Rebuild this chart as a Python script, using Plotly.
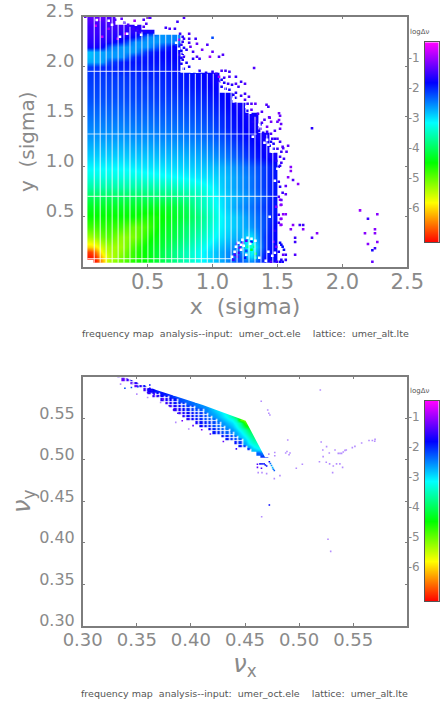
import plotly.graph_objects as go

_ = None
W, H = 442, 704
GREY = "#8a8a8a"
FONT = "DejaVu Sans"

COLORSCALE = [[0.0, "#ff0000"], [0.2, "#ffff00"], [0.4, "#00ff00"], [0.6, "#00ffff"], [0.8, "#0000ff"], [1.0, "#ff00ff"]]
LOG_MIN, LOG_MAX = -7.13, -0.48

# --- top panel: log(delta nu) over the x,y amplitude plane ---
AMP_X = [0.0575, 0.1, 0.15, 0.2, 0.3, 0.4, 0.5, 0.6, 0.7, 0.8, 0.9, 1.0, 1.1, 1.2, 1.3, 1.4, 1.465]
AMP_Y = [0.06, 0.1, 0.15, 0.2, 0.3, 0.4, 0.5, 0.6, 0.7, 0.8, 0.9, 1.0, 1.1, 1.2, 1.3, 1.4, 1.5, 1.6, 1.7, 1.8, 1.9,
         2.0, 2.05, 2.1, 2.15, 2.2, 2.25, 2.3, 2.35, 2.4, 2.45, 2.5]
AMP_LOG = [
 [_, -7.0, -6.2, -5.4, -5.0, -4.6, -4.4, -4.1, -3.8, -3.5, -3.2, -2.9, -2.6, -2.2, -2.6, -1.9, -1.8],
 [-7.0, -6.9, -6.0, -5.5, -5.1, -4.7, -4.4, -4.1, -3.8, -3.5, -3.2, -2.9, -2.6, -2.2, -3.0, -1.9, -1.8],
 [-6.8, -6.5, -5.7, -5.4, -5.2, -4.7, -4.4, -4.1, -3.8, -3.5, -3.2, -2.9, -2.6, -2.3, -3.2, -2.0, -1.8],
 [-6.0, -5.9, -5.5, -5.3, -5.3, -4.8, -4.4, -4.2, -3.9, -3.6, -3.3, -3.0, -2.7, -2.5, -3.4, -2.1, -1.8],
 [-5.3, -5.2, -5.0, -4.9, -5.2, -5.1, -4.6, -4.3, -4.1, -3.8, -3.5, -3.2, -2.9, -2.7, -3.0, -2.1, -1.8],
 [-4.8, -4.8, -4.7, -4.7, -4.8, -5.0, -4.8, -4.4, -4.2, -3.9, -3.7, -3.3, -3.0, -2.8, -2.6, -2.2, -1.8],
 [-4.5, -4.5, -4.5, -4.5, -4.5, -4.5, -4.6, -4.5, -4.3, -4.1, -3.8, -3.4, -3.0, -2.8, -2.5, -2.2, -1.9],
 [-4.3, -4.3, -4.3, -4.3, -4.3, -4.3, -4.3, -4.3, -4.2, -4.0, -3.6, -3.3, -2.9, -2.6, -2.4, -2.1, -1.9],
 [-4.0, -4.0, -4.0, -4.0, -4.0, -4.0, -3.95, -3.9, -3.85, -3.7, -3.5, -3.2, -2.9, -2.7, -2.5, -2.2, -1.9],
 [-3.6, -3.6, -3.6, -3.6, -3.6, -3.6, -3.6, -3.55, -3.5, -3.4, -3.3, -3.1, -2.8, -2.6, -2.4, -2.1, -1.9],
 [-3.3, -3.3, -3.3, -3.3, -3.3, -3.3, -3.25, -3.2, -3.15, -3.1, -3.0, -2.95, -2.8, -2.6, -2.4, -2.1, -1.9],
 [-3.1, -3.1, -3.1, -3.1, -3.1, -3.05, -3.0, -3.0, -2.95, -2.9, -2.85, -2.8, -2.7, -2.5, -2.3, -2.1, -1.9],
 [-2.9, -2.9, -2.9, -2.9, -2.9, -2.85, -2.85, -2.8, -2.8, -2.75, -2.7, -2.6, -2.45, -2.25, -2.0, -1.8, -1.7],
 [-2.75, -2.75, -2.75, -2.75, -2.75, -2.7, -2.7, -2.65, -2.65, -2.6, -2.55, -2.45, -2.3, -2.1, -1.9, -1.75, _],
 [-2.6, -2.6, -2.6, -2.6, -2.6, -2.55, -2.55, -2.5, -2.5, -2.45, -2.4, -2.3, -2.15, -1.95, -1.8, -1.7, _],
 [-2.5, -2.5, -2.5, -2.5, -2.5, -2.45, -2.45, -2.4, -2.4, -2.35, -2.3, -2.2, -2.0, -1.85, -1.75, _, _],
 [-2.4, -2.4, -2.4, -2.4, -2.4, -2.35, -2.35, -2.3, -2.3, -2.25, -2.2, -2.1, -1.95, -1.8, -1.75, _, _],
 [-2.3, -2.3, -2.3, -2.3, -2.3, -2.25, -2.25, -2.2, -2.2, -2.15, -2.1, -2.0, -1.85, -1.75, _, _, _],
 [-2.2, -2.2, -2.2, -2.2, -2.2, -2.15, -2.15, -2.1, -2.1, -2.05, -2.0, -1.9, -1.8, _, _, _, _],
 [-2.15, -2.15, -2.15, -2.15, -2.15, -2.1, -2.1, -2.05, -2.0, -1.95, -1.9, -1.8, _, _, _, _, _],
 [-2.1, -2.1, -2.1, -2.1, -2.1, -2.05, -2.0, -2.0, -1.95, -1.9, -1.85, -1.75, _, _, _, _, _],
 [-2.1, -2.05, -2.0, -2.0, -1.95, -1.95, -1.95, -1.95, -1.9, _, _, _, _, _, _, _, _],
 [-2.7, -2.7, -2.65, -2.2, -1.95, -1.9, -1.9, -1.9, -1.85, _, _, _, _, _, _, _, _],
 [-2.8, -2.7, -2.65, -2.6, -2.6, -2.0, -1.9, -1.85, -1.8, _, _, _, _, _, _, _, _],
 [-2.8, -2.7, -2.65, -2.6, -2.6, -2.6, -2.0, -1.85, -1.8, _, _, _, _, _, _, _, _],
 [-1.7, -1.7, -1.75, -2.3, -2.6, -2.6, -2.6, -2.2, -1.8, _, _, _, _, _, _, _, _],
 [-1.6, -1.6, -1.65, -1.7, -1.9, -2.55, -2.6, -2.6, -2.5, _, _, _, _, _, _, _, _],
 [-1.55, -1.55, -1.6, -1.6, -1.7, -1.8, -2.5, -2.6, -2.5, _, _, _, _, _, _, _, _],
 [-1.5, -1.5, -1.5, -1.55, -1.6, -1.6, -1.7, _, _, _, _, _, _, _, _, _, _],
 [-1.5, -1.5, -1.5, -1.5, -1.5, -1.6, _, _, _, _, _, _, _, _, _, _, _],
 [-1.4, -1.4, -1.45, -1.4, _, _, _, _, _, _, _, _, _, _, _, _, _],
 [-1.3, -1.3, -1.3, -1.4, _, _, _, _, _, _, _, _, _, _, _, _, _],
]

# white seams left between the scan blocks
SEAM_X = [0.089, 0.135, 0.181, 0.227, 0.273, 0.318, 0.364, 0.41, 0.456, 0.502, 0.548, 0.593, 0.639, 0.685, 0.731,
          0.777, 0.823, 0.868, 0.914, 0.96, 1.006, 1.052, 1.098, 1.143, 1.189, 1.235, 1.281, 1.327, 1.373, 1.418, 1.464]
SEAM_X_TOP = [2.5, 2.5, 2.5, 2.5, 2.45, 2.45, 2.4, 2.35, 2.35, 2.33, 2.33, 2.33, 2.33, 2.33, 2.33,
              2.0, 1.93, 1.93, 1.93, 1.93, 1.93, 1.85, 1.8, 1.75, 1.72, 1.65, 1.6, 1.5, 1.42, 1.32, 1.22]
SEAM_Y = [1.953, 1.327, 0.704, 0.08]
SEAM_Y_END = [0.82, 1.34, 1.5, 1.15]

# white holes inside the mapped area
HOLES = [
 (0.108, 2.467), (0.2, 2.46), (0.226, 2.42), (0.287, 2.3), (0.343, 2.33), (0.41, 2.42), (0.45, 2.32), (0.5, 2.39),
 (0.62, 2.35), (0.65, 2.35), (0.68, 2.35), (0.7, 2.35), (0.72, 2.24), (0.74, 2.18), (0.78, 2.14), (0.8, 2.09),
 (0.84, 2.03), (0.8, 1.98), (0.84, 1.95), (0.86, 1.98), (0.88, 1.95),
 (1.11, 1.87), (1.15, 1.86), (1.18, 1.78), (1.22, 1.78), (1.24, 1.77), (1.16, 1.68), (1.2, 1.66), (1.26, 1.6),
 (1.29, 1.54), (1.38, 1.5), (1.31, 1.3), (1.36, 1.42), (1.42, 1.27), (1.46, 1.15), (1.43, 1.22), (1.4, 1.24),
 (1.5, 0.98), (1.48, 0.86), (1.44, 0.5),
 (1.15, 0.1), (1.17, 0.15), (1.18, 0.2), (1.2, 0.24), (1.23, 0.27), (1.27, 0.29), (1.3, 0.28), (1.33, 0.26),
 (1.22, 0.17), (1.26, 0.12), (1.24, 0.21), (1.29, 0.23), (1.22, 0.22), (1.36, 0.09), (1.41, 0.06),
 (1.46, 0.11), (1.48, 0.14), (1.43, 0.15),
]

# scattered surviving particles around the edge of the mapped area
FRINGE_TOP = [
 (0.05, 2.48, -1.4), (0.13, 2.47, -0.9), (0.21, 2.49, -1.4), (0.25, 2.47, -1.4), (0.3, 2.48, -1.3), (0.32, 2.44, -1.5),
 (0.35, 2.42, -1.4), (0.39, 2.38, -1.5), (0.42, 2.37, -1.5), (0.4, 2.46, -1.0), (0.47, 2.47, -1.4), (0.5, 2.49, -1.2),
 (0.49, 2.43, -1.4), (0.52, 2.49, -1.4), (0.47, 2.4, -1.4), (0.44, 2.34, -1.5), (0.64, 2.39, -1.5), (0.67, 2.38, -1.4),
 (0.71, 2.38, -1.5), (0.73, 2.45, -1.5), (0.78, 2.49, -1.4), (0.82, 2.33, -1.4), (0.75, 2.33, -1.5), (0.78, 2.28, -1.5),
 (0.82, 2.28, -1.5), (0.87, 2.28, -1.5), (0.88, 2.23, -1.3), (0.96, 2.22, -1.4), (1.0, 2.29, -2.2), (0.92, 2.17, -1.2),
 (1.0, 2.15, -1.3), (1.05, 2.1, -1.4), (1.08, 2.12, -1.4), (0.98, 2.1, -1.0), (0.88, 2.1, -1.4), (0.9, 2.08, -1.5),
 (0.85, 2.15, -1.5), (0.83, 2.2, -1.3), (0.76, 2.22, -1.6), (0.78, 2.1, -1.5), (0.74, 2.12, -1.6), (0.8, 2.04, -1.7),
 (0.82, 2.0, -1.7), (0.76, 2.03, -1.7), (0.85, 2.08, -1.6), (0.74, 2.27, -1.0), (0.7, 2.2, -1.8), (0.76, 2.16, -1.8),
 (0.33, 2.33, -0.8), (0.15, 2.3, -0.8), (0.27, 2.28, -0.8), (0.1, 2.41, -0.8), (0.02, 2.5, -1.3), (0.2, 2.38, -1.0),
 (0.72, 1.96, -1.6), (0.9, 1.96, -1.6), (0.77, 2.07, -1.7), (0.77, 2.13, -1.7), (0.78, 2.19, -1.7), (0.77, 2.25, -1.6),
 (0.78, 1.98, -1.8), (0.77, 2.3, -1.6), (0.8, 2.17, -1.6), (0.82, 2.24, -1.5), (0.76, 2.09, -1.7),
]
FRINGE_ARC = [
 (0.95, 1.94, -1.7), (1.0, 1.95, -1.6), (1.03, 1.93, -1.5), (1.05, 1.9, -1.0), (1.07, 1.96, -1.4), (1.1, 1.96, -1.5), (1.13, 1.95, -1.5),
 (1.05, 1.85, -1.6), (1.09, 1.89, -1.5), (1.12, 1.83, -1.5), (1.15, 1.82, -1.6), (1.13, 1.9, -1.4), (1.18, 1.9, -1.5),
 (1.18, 1.83, -1.4), (1.2, 1.8, -1.5), (1.22, 1.85, -1.5), (1.25, 1.83, -1.4), (1.25, 1.73, -1.5), (1.18, 1.74, -1.6),
 (1.22, 1.71, -1.5), (1.25, 1.67, -1.4), (1.28, 1.7, -1.4), (1.3, 1.63, -1.4), (1.33, 1.63, -1.3), (1.27, 1.63, -1.5),
 (1.3, 1.57, -1.3), (1.35, 1.53, -1.4), (1.38, 1.55, -1.4), (1.33, 1.48, -1.5), (1.38, 1.44, -1.4), (1.4, 1.47, -1.4),
 (1.42, 1.4, -1.2), (1.37, 1.38, -1.5), (1.42, 1.35, -1.5), (1.45, 1.33, -1.4), (1.48, 1.36, -1.4), (1.46, 1.28, -1.5),
 (1.5, 1.28, -1.4), (1.52, 1.25, -1.5), (1.54, 1.2, -1.4), (1.5, 1.18, -1.5), (1.53, 1.15, -1.5), (1.57, 1.15, -1.4),
 (1.52, 1.1, -1.5), (1.55, 1.08, -1.5), (1.53, 1.04, -1.5), (1.51, 1.0, -1.6), (1.49, 1.06, -1.6), (1.52, 1.01, -1.6),
 (1.52, 1.38, -1.3), (1.5, 1.45, -1.3), (1.52, 1.51, -1.3), (1.44, 1.49, -1.2), (1.43, 1.6, -1.5), (1.48, 1.28, -1.6),
 (1.51, 0.85, -1.6), (1.52, 0.8, -1.6), (1.54, 0.74, -1.5), (1.51, 0.7, -1.4), (1.52, 0.67, -1.0), (1.53, 0.62, -1.2),
 (1.49, 0.6, -1.1), (1.51, 0.52, -1.5), (1.53, 0.48, -1.1), (1.51, 0.44, -1.5), (1.53, 0.42, -1.1), (1.48, 0.36, -1.6),
 (1.07, 1.87, -1.7), (1.09, 1.84, -1.7), (1.07, 1.8, -1.7), (1.1, 1.78, -1.7), (1.13, 1.77, -1.7), (1.16, 1.72, -1.7),
 (1.18, 1.69, -1.7), (1.18, 1.63, -1.7), (1.21, 1.62, -1.7), (1.23, 1.58, -1.7), (1.27, 1.56, -1.7), (1.27, 1.52, -1.7),
 (1.3, 1.5, -1.7), (1.31, 1.45, -1.7), (1.34, 1.45, -1.7), (1.37, 1.42, -1.7), (1.36, 1.36, -1.7), (1.39, 1.34, -1.7),
 (1.39, 1.29, -1.7), (1.42, 1.3, -1.7), (1.45, 1.25, -1.7), (1.47, 1.23, -1.7), (1.44, 1.21, -1.7), (1.47, 1.18, -1.7),
]
FRINGE_FAR = [
 (1.766, 1.384, -1.6), (1.32, 1.987, -1.4), (1.512, 1.534, -1.2), (1.512, 1.467, -1.2), (1.528, 1.427, -1.3),
 (1.436, 1.494, -1.3), (1.451, 1.45, -1.2), (1.416, 1.62, -1.4), (1.582, 1.21, -1.3), (1.544, 1.184, -1.4),
 (1.603, 0.997, -1.1), (1.603, 0.957, -1.1), (1.582, 0.894, -1.1), (1.62, 0.867, -1.4), (1.659, 0.827, -1.1),
 (1.564, 0.807, -1.3), (1.564, 0.724, -1.3), (1.525, 0.617, -1.1), (1.53, 0.667, -1.3), (1.544, 0.524, -1.1),
 (1.564, 0.524, -1.1), (1.525, 0.477, -1.1), (1.525, 0.417, -1.1), (1.62, 0.417, -1.1), (1.672, 0.417, -1.5),
 (1.698, 0.417, -1.5), (1.603, 0.374, -1.1), (1.698, 0.374, -1.1), (1.805, 0.334, -1.1), (1.766, 0.29, -1.4),
 (1.636, 0.29, -1.5), (1.636, 0.247, -1.5), (2.136, 0.563, -1.0), (2.269, 0.524, -1.1), (2.197, 0.48, -1.5),
 (2.251, 0.374, -1.1), (2.174, 0.334, -1.1), (2.251, 0.334, -1.1), (2.269, 0.247, -1.1), (2.197, 0.227, -1.1),
 (2.251, 0.184, -1.5), (2.231, 0.164, -1.7), (2.231, 0.05, -1.3), (1.636, 0.12, -1.4), (1.564, 0.12, -1.5),
 (1.544, 0.12, -1.3), (1.564, 0.068, -1.6), (1.53, 0.068, -1.6), (1.496, 0.05, -1.5), (1.451, 0.05, -1.4),
 (1.52, 0.24, -1.8), (1.54, 0.2, -1.9), (1.55, 0.17, -1.8), (1.51, 0.15, -1.7), (1.53, 0.22, -1.8), (1.49, 0.2, -1.2),
 (1.47, 0.25, -1.3), (1.52, 0.05, -1.7), (1.54, 0.05, -1.7),
]
# resonance island near (1.3, 0.2)
ISLAND = [
 (1.16, 0.07, -1.5), (1.19, 0.1, -1.4), (1.17, 0.12, -1.4), (1.2, 0.14, -1.5), (1.21, 0.19, -1.3), (1.19, 0.23, -1.5),
 (1.23, 0.24, -1.4), (1.26, 0.26, -1.4), (1.3, 0.25, -1.9), (1.23, 0.15, -2.6), (1.27, 0.2, -3.6), (1.3, 0.17, -4.2),
 (1.32, 0.2, -3.6), (1.33, 0.13, -3.9), (1.33, 0.09, -3.4), (1.29, 0.14, -3.0), (1.26, 0.16, -2.2), (1.25, 0.09, -1.9),
]

# --- bottom panel: tune footprint ---
WEDGE_X = [0.334, 0.338, 0.342, 0.346, 0.35, 0.354, 0.358, 0.362, 0.366, 0.37, 0.374, 0.378, 0.382, 0.386, 0.39, 0.394,
           0.398, 0.402, 0.406, 0.41, 0.414, 0.418, 0.422, 0.426, 0.43, 0.434, 0.438, 0.442, 0.446, 0.45, 0.454, 0.458,
           0.462, 0.466, 0.47]
WEDGE_Y = [0.504, 0.508, 0.512, 0.516, 0.52, 0.524, 0.528, 0.532, 0.536, 0.54, 0.544, 0.548, 0.552, 0.556, 0.56, 0.564,
           0.568, 0.572, 0.576, 0.58, 0.584, 0.588, 0.592, 0.596, 0.6]
# each row: first nu_x of the run, then log(delta nu) of consecutive cells
WEDGE_SOLID = [
 (0.466, [-2.0, -2.0]),
 (0.462, [-2.3, -2.5, -2.6]),
 (0.458, [-2.8, -3.0, -3.0, -3.0]),
 (0.454, [-2.7, -3.1, -3.3, -3.3]),
 (0.45, [-2.7, -3.2, -3.4, -3.5, -3.5]),
 (0.45, [-2.9, -3.3, -3.6, -3.7, -3.7]),
 (0.446, [-2.8, -3.1, -3.5, -3.8, -3.9]),
 (0.442, [-2.7, -3.0, -3.4, -3.8, -4.0, -4.0]),
 (0.438, [-2.6, -2.9, -3.2, -3.6, -4.1, -4.2]),
 (0.434, [-2.6, -2.8, -3.1, -3.5, -4.2, -4.5]),
 (0.43, [-2.6, -2.8, -3.0, -3.3, -3.7, -4.8, -5.0]),
 (0.426, [-2.6, -2.8, -3.0, -3.2, -3.6, -5.0, -5.2, -5.2]),
 (0.422, [-2.6, -2.8, -3.0, -3.2, -3.6, -4.0, -4.0]),
 (0.418, [-2.6, -2.7, -2.9, -3.1, -3.3, -3.5, -3.5]),
 (0.414, [-2.5, -2.7, -2.9, -3.1, -3.2, -3.2]),
 (0.406, [-2.4, -2.5, -2.6, -2.8, -3.0, -3.0]),
 (0.398, [-2.3, -2.4, -2.5, -2.6, -2.6]),
 (0.39, [-2.2, -2.3, -2.4, -2.4]),
 (0.382, [-2.0, -2.2, -2.3, -2.3]),
 (0.374, [-1.9, -2.0, -2.1]),
 (0.362, [-1.8, -1.9, -2.0, -2.0]),
 (0.334, []), (0.334, []), (0.334, []), (0.334, []),
]
WEDGE_DOTTED = [
 (0.334, []),
 (0.334, []),
 (0.454, [-2.1]),
 (0.446, [-1.9, -2.2]),
 (0.442, [-1.9, -2.1]),
 (0.434, [-1.9, -2.1, -2.2, -2.4]),
 (0.43, [-1.9, -2.0, -2.2, -2.4]),
 (0.422, [-1.9, -2.0, -2.2, -2.3, -2.5]),
 (0.418, [-1.8, -2.0, -2.2, -2.3, -2.5]),
 (0.41, [-1.8, -1.9, -2.0, -2.2, -2.3, -2.5]),
 (0.406, [-1.7, -1.9, -2.0, -2.1, -2.2, -2.4]),
 (0.398, [-1.6, -1.8, -1.9, -2.0, -2.2, -2.3, -2.4]),
 (0.394, [-1.6, -1.8, -1.9, -2.0, -2.1, -2.2, -2.4]),
 (0.39, [-1.5, -1.7, -1.8, -1.9, -2.0, -2.1, -2.3]),
 (0.386, [-1.6, -1.7, -1.8, -2.0, -2.1, -2.2, -2.3]),
 (0.382, [-1.5, -1.7, -1.8, -2.0, -2.1, -2.2]),
 (0.378, [-1.5, -1.7, -1.9, -2.0, -2.1]),
 (0.374, [-1.6, -1.7, -1.8, -1.9]),
 (0.366, [-1.5, -1.6, -1.8, -1.9]),
 (0.362, [-1.6, -1.7, -1.8, -1.9]),
 (0.358, [-1.5, -1.7, -1.8]),
 (0.35, [-1.3, -1.6, -1.7]),
 (0.346, [-1.4, -1.6]),
 (0.338, [-1.3, -1.5, -1.7]),
 (0.334, [-1.4, -1.6]),
]
# outer outline of the footprint: everything beyond it is empty tune space
WEDGE_OUTLINE_X = [0.33, 0.3375, 0.368, 0.411, 0.4506, 0.4685, 0.48, 0.48, 0.33]
WEDGE_OUTLINE_Y = [0.6, 0.6, 0.584, 0.566, 0.547, 0.503, 0.503, 0.6, 0.6]
TUNE_NEAR = [
 (0.4725, 0.4976, -1.8), (0.4735, 0.4955, -2.4), (0.4745, 0.493, -2.6), (0.4755, 0.4905, -2.8), (0.4762, 0.4885, -2.5),
 (0.4771, 0.487, -2.3), (0.4639, 0.495, -1.8), (0.4657, 0.495, -1.8), (0.4676, 0.495, -1.9), (0.4688, 0.4937, -1.8),
 (0.47, 0.4925, -1.8), (0.4615, 0.4945, -1.4), (0.4615, 0.4908, -1.3), (0.4652, 0.4897, -1.4), (0.4725, 0.4454, -1.8),
 (0.339, 0.586, -2.2), (0.345, 0.587, -2.2), (0.351, 0.588, -2.1), (0.357, 0.589, -2.0), (0.362, 0.59, -1.9),
 (0.362, 0.586, -1.7), (0.364, 0.583, -1.6), (0.36, 0.581, -1.5), (0.366, 0.579, -1.5), (0.37, 0.577, -1.6),
 (0.374, 0.573, -1.2), (0.38, 0.565, -1.5), (0.384, 0.56, -1.5), (0.388, 0.556, -1.6), (0.392, 0.547, -1.2),
 (0.402, 0.541, -1.3), (0.41, 0.536, -1.2), (0.418, 0.531, -1.3), (0.43, 0.522, -1.3), (0.442, 0.513, -1.5),
]
TUNE_FAINT = [
 (0.5196, 0.584), (0.465, 0.5704), (0.471, 0.5599), (0.472, 0.556), (0.473, 0.5539), (0.4895, 0.5238), (0.4888, 0.5098),
 (0.4876, 0.508), (0.4916, 0.508), (0.4907, 0.506), (0.5204, 0.5213), (0.5254, 0.5157), (0.5219, 0.5117), (0.5222, 0.5037),
 (0.5188, 0.4976), (0.5332, 0.5117), (0.5279, 0.508), (0.5362, 0.5076), (0.5378, 0.5076), (0.5393, 0.5076), (0.5408, 0.5092),
 (0.5424, 0.5112), (0.5436, 0.5116), (0.5492, 0.5146), (0.5516, 0.5161), (0.5578, 0.5201), (0.5646, 0.5232), (0.5677, 0.5232),
 (0.5702, 0.5245), (0.5699, 0.5222), (0.5251, 0.497), (0.5282, 0.495), (0.5316, 0.4925), (0.5346, 0.495), (0.5377, 0.495),
 (0.5402, 0.4908), (0.531, 0.4844), (0.503, 0.4945), (0.4974, 0.4897), (0.4823, 0.4808), (0.4771, 0.4772), (0.4622, 0.4844),
 (0.4657, 0.4844), (0.47, 0.4832), (0.4775, 0.5086), (0.4775, 0.5047), (0.472, 0.5067), (0.4654, 0.4313), (0.5267, 0.4041),
 (0.5292, 0.3896), (0.335, 0.591), (0.35, 0.579), (0.346, 0.592), (0.36, 0.575), (0.372, 0.569), (0.386, 0.545), (0.398, 0.537),
]

COLORBAR_LEVELS = [-7.13, -5.8, -4.47, -3.14, -1.81, -0.48]
COLORBAR_TICKS = [-6, -5, -4, -3, -2, -1]
AMP_TICKS = [0.5, 1.0, 1.5, 2.0, 2.5]
TUNE_TICKS = [0.30, 0.35, 0.40, 0.45, 0.50, 0.55]
FOOTER = "frequency map  analysis--input:  umer_oct.ele    lattice:  umer_alt.lte"


def paper_x(px):
    return px / W


def paper_y(px):
    return 1 - px / H


def pad(rows):
    out = []
    for start, vals in rows:
        row = [None] * len(WEDGE_X)
        first = WEDGE_X.index(start) if start in WEDGE_X else 0
        for i, v in enumerate(vals):
            if first + i < len(row):
                row[first + i] = v
        out.append(row)
    return out


def dots(fig, table, size, xaxis, yaxis, opacity=1.0):
    fig.add_trace(go.Scatter(x=[t[0] for t in table], y=[t[1] for t in table], mode="markers", xaxis=xaxis, yaxis=yaxis,
                             opacity=opacity, hoverinfo="skip",
                             marker=dict(symbol="square", size=size, color=[t[2] for t in table], coloraxis="coloraxis", line_width=0)))


fig = go.Figure()

# top panel
fig.add_trace(go.Heatmap(x=AMP_X, y=AMP_Y, z=AMP_LOG, zsmooth="best", coloraxis="coloraxis", xaxis="x", yaxis="y", hoverongaps=False))
for table in (FRINGE_TOP, FRINGE_ARC, FRINGE_FAR, ISLAND):
    dots(fig, table, 2.6, "x", "y")
fig.add_trace(go.Scatter(x=[h[0] for h in HOLES], y=[h[1] for h in HOLES], mode="markers", xaxis="x", yaxis="y", hoverinfo="skip",
                         marker=dict(symbol="square", size=2.6, color="white", line_width=0)))
seam_xs, seam_ys = [], []
for x, top in zip(SEAM_X, SEAM_X_TOP):
    seam_xs += [x, x, None]
    seam_ys += [0.04, top, None]
for y, end in zip(SEAM_Y, SEAM_Y_END):
    seam_xs += [0.036, end, None]
    seam_ys += [y, y, None]
fig.add_trace(go.Scatter(x=seam_xs, y=seam_ys, mode="lines", xaxis="x", yaxis="y", hoverinfo="skip",
                         line=dict(color="rgba(255,255,255,0.72)", width=1.2)))

# bottom panel
fig.add_trace(go.Heatmap(x=WEDGE_X, y=WEDGE_Y, z=pad(WEDGE_SOLID), zsmooth="best", coloraxis="coloraxis", xaxis="x2", yaxis="y2", hoverongaps=False))
fig.add_trace(go.Heatmap(x=WEDGE_X, y=WEDGE_Y, z=pad(WEDGE_DOTTED), xgap=1.4, ygap=0.8, coloraxis="coloraxis", xaxis="x2", yaxis="y2", hoverongaps=False))
fig.add_trace(go.Scatter(x=WEDGE_OUTLINE_X, y=WEDGE_OUTLINE_Y, mode="lines", fill="toself", fillcolor="white", xaxis="x2", yaxis="y2",
                         hoverinfo="skip", line=dict(color="white", width=0)))
dots(fig, TUNE_NEAR, 1.6, "x2", "y2")
fig.add_trace(go.Scatter(x=[t[0] for t in TUNE_FAINT], y=[t[1] for t in TUNE_FAINT], mode="markers", xaxis="x2", yaxis="y2", hoverinfo="skip",
                         marker=dict(symbol="square", size=1.6, color="#b48cff", line_width=0)))

# colour keys
for xa, ya in (("x3", "y3"), ("x4", "y4")):
    fig.add_trace(go.Heatmap(x=[0, 1], y=COLORBAR_LEVELS, z=[[v, v] for v in COLORBAR_LEVELS], zsmooth="best",
                             coloraxis="coloraxis", xaxis=xa, yaxis=ya, hoverinfo="skip"))

axis_base = dict(showgrid=False, zeroline=False, showline=True, linecolor="#7d7d7d", linewidth=1.5, mirror="allticks", automargin=False,
                 ticks="inside", ticklen=3, tickcolor="#7d7d7d", tickwidth=1)
font_axis = lambda s: dict(family=FONT, size=s, color=GREY)
note = lambda text, x, y, size: dict(text=text, x=paper_x(x), y=paper_y(y), xref="paper", yref="paper", yanchor="middle", showarrow=False,
                                     font=dict(family=FONT, size=size, color="#555555"))

fig.update_layout(
    width=W, height=H, autosize=False, margin=dict(l=0, r=0, t=0, b=0), paper_bgcolor="white", plot_bgcolor="white",
    showlegend=False, font=dict(family=FONT, color=GREY),
    coloraxis=dict(colorscale=COLORSCALE, cmin=LOG_MIN, cmax=LOG_MAX, showscale=False),
    xaxis=dict(axis_base, domain=[paper_x(82.7), paper_x(407.3)], range=[0, 2.5], anchor="y", tickvals=AMP_TICKS, ticktext=["0.5", "1.0", "1.5", "2.0", "2.5"],
               tickfont=font_axis(21), ticklabelstandoff=-5, title=dict(text="x  (sigma)", font=font_axis(22), standoff=0)),
    yaxis=dict(axis_base, domain=[paper_y(266.7), paper_y(16.7)], range=[0, 2.5], anchor="x", tickvals=AMP_TICKS, ticktext=["0.5", "1.0", "1.5", "2.0", "2.5"],
               tickfont=font_axis(18), ticklabelshift=-6, ticklabelstandoff=3, title=dict(text="y  (sigma)", font=font_axis(20), standoff=6)),
    xaxis2=dict(axis_base, domain=[paper_x(82.7), paper_x(407.3)], range=[0.3, 0.6], anchor="y2", tickvals=TUNE_TICKS, ticktext=["0.30", "0.35", "0.40", "0.45", "0.50", "0.55"],
                tickfont=font_axis(18), ticklabelstandoff=-3, title=dict(text="<i>ν</i><sub>x</sub>", font=font_axis(24), standoff=0)),
    yaxis2=dict(axis_base, domain=[paper_y(625.7), paper_y(376.7)], range=[0.3, 0.6], anchor="x2", tickvals=TUNE_TICKS, ticktext=["0.30", "0.35", "0.40", "0.45", "0.50", "0.55"],
                tickfont=font_axis(16), ticklabelshift=-5, ticklabelstandoff=3, title=dict(text="<i>ν</i><sub>y</sub>", font=font_axis(24), standoff=2)),
    annotations=[
        note(FOOTER, 245, 334, 9.5),
        note(FOOTER, 244, 693, 9.5),
        note("logΔν", 431, 32, 7),
        note("logΔν", 431, 391, 7),
    ],
)
key_axis = dict(showgrid=False, zeroline=False, showline=True, linecolor="#555555", linewidth=1, mirror=True, automargin=False)
for n, top, bottom in ((3, 42.3, 242), (4, 401, 601)):
    fig.update_layout({
        f"xaxis{n}": dict(key_axis, domain=[paper_x(425), paper_x(438.5)], range=[0, 1], anchor=f"y{n}", showticklabels=False, ticks=""),
        f"yaxis{n}": dict(key_axis, domain=[paper_y(bottom), paper_y(top)], range=[LOG_MIN, LOG_MAX], anchor=f"x{n}", side="left",
                          tickvals=COLORBAR_TICKS, ticktext=["-6", "-5", "-4", "-3", "-2", "-1"], ticks="", tickfont=font_axis(12), ticklabelstandoff=2),
    })

fig.write_html("out.html", config={"displayModeBar": False},
               post_script="document.body.style.margin='0';document.body.style.overflow='hidden';")
